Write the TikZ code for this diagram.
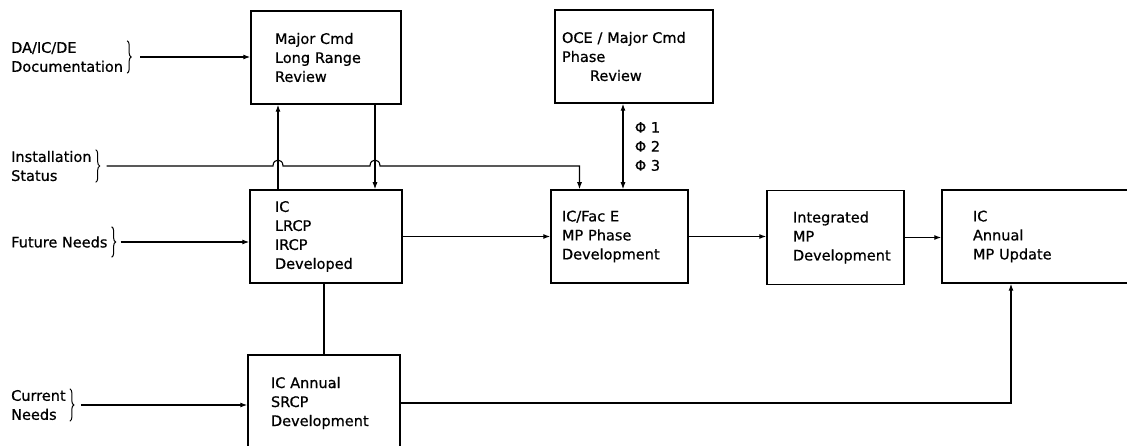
\documentclass[tikz,border=0pt]{standalone}
\usepackage{fontspec}
\setmainfont{DejaVu Sans}[BoldFont=DejaVu Sans, BoldFeatures={FakeBold=0.7}]
\usetikzlibrary{arrows.meta,decorations.pathreplacing}

\tikzset{
  box/.style={draw, line width=1.5pt, align=left, minimum height=93pt},
  lbl/.style={align=left, anchor=west, inner sep=1pt, minimum height=30pt},
  arr/.style={line width=1.1pt, -{Latex[length=7pt,width=5pt]}},
  arrtwo/.style={line width=1.1pt, {Latex[length=7pt,width=5pt]}-{Latex[length=7pt,width=5pt]}},
  link/.style={line width=1.1pt},
  brc/.style={line width=1pt, decorate, decoration={brace, amplitude=4pt}}
}

\begin{document}
\begin{tikzpicture}[x=1pt, y=-1pt, font=\fontsize{14.5}{19}\selectfont\bfseries]
\useasboundingbox (0,0) rectangle (1127,446);
\clip (0,0) rectangle (1127,446);

% boxes
\node[box, inner xsep=24pt, text width=102pt] (mclrr) at (326,57.5) {Major Cmd\\Long Range\\Review};
\node[box, inner xsep=7pt, text width=144pt] (oce) at (634,56.5) {OCE / Major Cmd\\Phase\\\hspace*{28pt}Review};
\node[box, inner xsep=25pt, text width=102pt] (lrcp) at (326,236.5) {IC\\LRCP\\IRCP\\Developed};
\node[box, inner xsep=11pt, text width=115pt] (face) at (619.5,236.5) {IC/Fac E\\MP Phase\\Development};
\node[box, inner xsep=26pt, text width=85pt, minimum height=94pt] (intmp) at (835.5,237.5) {Integrated\\MP\\Development};
\node[box, inner xsep=31pt, text width=138pt] (update) at (1042,236.5) {IC\\Annual\\MP Update};
\node[box, inner xsep=23pt, text width=106pt, minimum height=96pt] (srcp) at (324,403) {IC Annual\\SRCP\\Development};

% inputs on the left
\node[lbl] (doc) at (10,57) {DA/IC/DE\\Documentation};
\node[lbl] (inst) at (10,166) {Installation\\Status};
\node[lbl] (fut) at (10,242) {Future Needs};
\node[lbl] (cur) at (10,405) {Current\\Needs};
\foreach \n in {doc,inst,fut,cur}
  \draw[brc] ([xshift=3pt]\n.north east) -- ([xshift=3pt]\n.south east);

\draw[arr] ([xshift=16pt]doc.east) -- (doc.east -| mclrr.west);
\draw[arr] ([xshift=12pt]fut.east) -- (fut.east -| lrcp.west);
\draw[arr] ([xshift=14pt]cur.east) -- (cur.east -| srcp.west);

% installation status, hopping over the two review lines
\draw[arr] ([xshift=14pt]inst.east) -- (273,166) .. controls (273,158) and (283,158) .. (283,166)
  -- (370,166) .. controls (370,158) and (380,158) .. (380,166)
  -| ([xshift=-40pt]face.north);

% review loop
\draw[arr] ([xshift=-48pt]lrcp.north) -- ([xshift=-48pt]lrcp.north |- mclrr.south);
\draw[arr] ([xshift=49pt]mclrr.south) -- ([xshift=49pt]mclrr.south |- lrcp.north);
\draw[arrtwo] ([xshift=-11pt]oce.south) -- ([xshift=-11pt]oce.south |- face.north)
  node[pos=0.5, right=8pt, align=left] (phases) {Φ 1\\Φ 2\\Φ 3};

% main flow
\draw[arr] (lrcp.east) -- (lrcp.east -| face.west);
\draw[arr] (face.east) -- (face.east -| intmp.west);
\draw[arr] (intmp.east) -- (intmp.east -| update.west);
\draw[link] ([xshift=-2pt]lrcp.south) -- ([xshift=-2pt]lrcp.south |- srcp.north);
\draw[arr] (srcp.east) -| ([xshift=-31pt]update.south);
\end{tikzpicture}
\end{document}
